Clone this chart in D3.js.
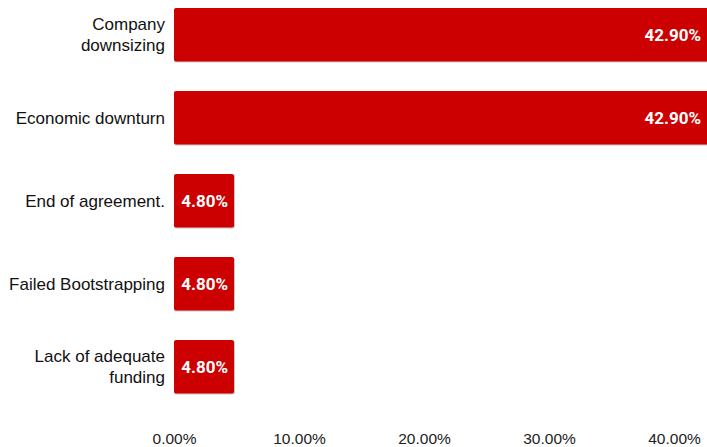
<!DOCTYPE html>
<html>
<head>
<meta charset="utf-8">
<script src="https://cdn.jsdelivr.net/npm/d3@7"></script>
<style>
  html, body { margin: 0; padding: 0; background: #fff; }
  svg { display: block; }
</style>
</head>
<body>
<svg id="chart" width="707" height="447"></svg>
<script>
// Reasons for closing, share of responses (%)
const categories = [
  ["Company", "downsizing"],
  ["Economic downturn"],
  ["End of agreement."],
  ["Failed Bootstrapping"],
  ["Lack of adequate", "funding"]
];
const values = [42.9, 42.9, 4.8, 4.8, 4.8];
const tickValues = [0, 10, 20, 30, 40];

const W = 707, H = 447;
const left = 174;
const svg = d3.select("#chart");

const x = d3.scaleLinear().domain([0, 40]).range([left, left + 500]);
const y = d3.scaleBand()
  .domain(d3.range(values.length))
  .range([-6.7, 408.3])
  .paddingInner(0.355)
  .paddingOuter(0.1775);

const defs = svg.append("defs");
defs.append("clipPath").attr("id", "plot")
  .append("rect").attr("x", 0).attr("y", 0).attr("width", W).attr("height", H);

const bars = svg.append("g").attr("clip-path", "url(#plot)");

// subtle drop shadow under each bar
bars.selectAll("rect.shadow")
  .data(values)
  .join("rect")
  .attr("class", "shadow")
  .attr("x", x(0))
  .attr("y", (d, i) => y(i) + 1)
  .attr("width", d => x(d) - x(0) + 1)
  .attr("height", y.bandwidth())
  .attr("rx", 2)
  .attr("fill", "#c8c8c8");

bars.selectAll("rect.bar")
  .data(values)
  .join("rect")
  .attr("class", "bar")
  .attr("x", x(0))
  .attr("y", (d, i) => y(i))
  .attr("width", d => x(d) - x(0))
  .attr("height", y.bandwidth())
  .attr("rx", 2)
  .attr("fill", "#cc0000");

// value labels, right-aligned within the visible part of each bar
svg.selectAll("text.val")
  .data(values)
  .join("text")
  .attr("class", "val")
  .attr("x", d => Math.min(x(d), W) - 6)
  .attr("y", (d, i) => y(i) + y.bandwidth() / 2)
  .attr("dy", "0.36em")
  .attr("text-anchor", "end")
  .attr("font-family", "Roboto, 'Liberation Sans', Arial, sans-serif")
  .attr("font-weight", "bold")
  .attr("font-size", 17)
  .attr("fill", "#fff")
  .text(d => d.toFixed(2) + "%");

// category labels
const cat = svg.selectAll("text.cat")
  .data(categories)
  .join("text")
  .attr("class", "cat")
  .attr("text-anchor", "end")
  .attr("font-family", "'Liberation Sans', Arial, sans-serif")
  .attr("font-size", 17)
  .attr("fill", "#111")
  .attr("transform", (d, i) => `translate(165,${y(i) + y.bandwidth() / 2})`);

cat.selectAll("tspan")
  .data(d => d.map((t, k) => ({ t, k, n: d.length })))
  .join("tspan")
  .attr("x", 0)
  .attr("y", d => (d.k - (d.n - 1) / 2) * 21)
  .attr("dy", "0.35em")
  .text(d => d.t);

// bottom axis labels
const axis = d3.axisBottom(x)
  .tickValues(tickValues)
  .tickSize(0)
  .tickPadding(0)
  .tickFormat(d => d.toFixed(2) + "%");

const gx = svg.append("g")
  .attr("transform", "translate(0,433)")
  .call(axis);
gx.select(".domain").remove();
gx.selectAll("text")
  .attr("font-family", "'Liberation Sans', Arial, sans-serif")
  .attr("font-size", 15.5)
  .attr("fill", "#222");
</script>
</body>
</html>
